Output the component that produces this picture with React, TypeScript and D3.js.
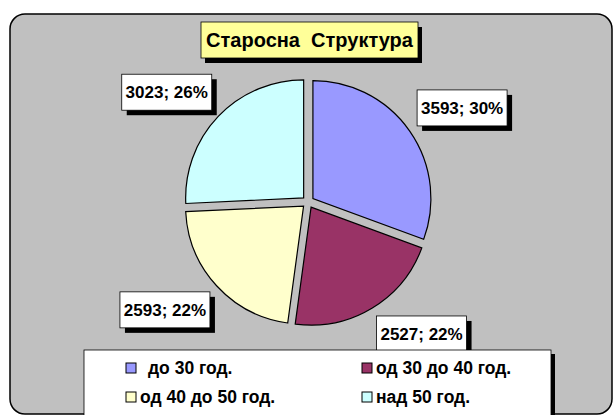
import { useEffect, useRef } from 'react';
import * as d3 from 'd3';

const width = 614;
const height = 415;

const categories = ['до 30 год.', 'од 30 до 40 год.', 'од 40 до 50 год.', 'над 50 год.'];
const values = [3593, 2527, 2593, 3023];
const percentLabels = ['30%', '22%', '22%', '26%'];
const colors = ['#9999FF', '#993366', '#FFFFCC', '#CCFFFF'];
const title = 'Старосна  Структура';

const cx = 308;
const cy = 202;
const radius = 118;
const explode = 6;

const App = () => {
  const ref = useRef<SVGSVGElement>(null);

  useEffect(() => {
    const svg = d3.select(ref.current);
    svg.selectAll('*').remove();
    const font = 'Liberation Sans, Arial, sans-serif';

    // outer frame
    svg.append('rect')
      .attr('x', 10).attr('y', 14)
      .attr('width', 602).attr('height', 400)
      .attr('rx', 15).attr('ry', 15)
      .attr('fill', '#C0C0C0')
      .attr('stroke', '#000').attr('stroke-width', 1.5);

    // title box with shadow
    const tb = { x: 201, y: 22, w: 217, h: 36 };
    svg.append('rect').attr('x', tb.x + 4).attr('y', tb.y + 5).attr('width', tb.w).attr('height', tb.h).attr('fill', '#000');
    svg.append('rect').attr('x', tb.x).attr('y', tb.y).attr('width', tb.w).attr('height', tb.h)
      .attr('fill', '#FFFF99').attr('stroke', '#000').attr('stroke-width', 0.8);
    svg.append('text')
      .attr('x', tb.x + tb.w / 2).attr('y', tb.y + tb.h / 2)
      .attr('dy', '0.35em')
      .attr('text-anchor', 'middle')
      .attr('font-family', font).attr('font-weight', 'bold').attr('font-size', 20)
      .style('white-space', 'pre')
      .text(title);

    const pie = d3.pie<number>().sort(null).value(d => d);
    const arcs = pie(values);
    const arc = d3.arc<d3.PieArcDatum<number>>().innerRadius(0).outerRadius(radius);

    const g = svg.append('g').attr('transform', `translate(${cx},${cy})`);
    g.selectAll('path')
      .data(arcs)
      .enter().append('path')
      .attr('d', arc)
      .attr('transform', d => {
        const a = (d.startAngle + d.endAngle) / 2;
        return `translate(${Math.sin(a) * explode},${-Math.cos(a) * explode})`;
      })
      .attr('fill', (d, i) => colors[i])
      .attr('stroke', '#000').attr('stroke-width', 1.2);

    // data labels
    const lw = 90, lh = 36, lr = 133;
    arcs.forEach((d, i) => {
      const a = (d.startAngle + d.endAngle) / 2;
      const ax = cx + Math.sin(a) * lr;
      const ay = cy - Math.cos(a) * lr;
      const bx = Math.sin(a) >= 0 ? ax : ax - lw;
      const by = Math.cos(a) >= 0 ? ay - lh : ay;
      svg.append('rect').attr('x', bx + 5).attr('y', by + 5).attr('width', lw).attr('height', lh).attr('fill', '#000');
      svg.append('rect').attr('x', bx).attr('y', by).attr('width', lw).attr('height', lh)
        .attr('fill', '#fff').attr('stroke', '#000').attr('stroke-width', 0.8);
      svg.append('text')
        .attr('x', bx + lw / 2).attr('y', by + lh / 2).attr('dy', '0.35em')
        .attr('text-anchor', 'middle')
        .attr('font-family', font).attr('font-weight', 'bold').attr('font-size', 17)
        .text(`${values[i]}; ${percentLabels[i]}`);
    });

    // legend
    const lg = { x: 84, y: 350, w: 467, h: 70 };
    svg.append('rect').attr('x', lg.x + 4).attr('y', lg.y + 4).attr('width', lg.w).attr('height', lg.h).attr('fill', '#000');
    svg.append('rect').attr('x', lg.x).attr('y', lg.y).attr('width', lg.w).attr('height', lg.h)
      .attr('fill', '#fff').attr('stroke', '#000').attr('stroke-width', 0.8);

    const colX = d3.scaleOrdinal<number, number>().domain([0, 1]).range([126, 362]);
    const rowY = d3.scaleOrdinal<number, number>().domain([0, 1]).range([368, 397]);
    categories.forEach((c, i) => {
      const col = i % 2, row = Math.floor(i / 2);
      const x = colX(col), y = rowY(row);
      svg.append('rect').attr('x', x).attr('y', y - 5).attr('width', 10).attr('height', 10)
        .attr('fill', colors[i]).attr('stroke', '#000').attr('stroke-width', 1);
      svg.append('text')
        .attr('x', x + (i === 0 ? 22 : 14)).attr('y', y).attr('dy', '0.35em')
        .attr('font-family', font).attr('font-weight', 'bold').attr('font-size', 17.5)
        .text(c);
    });
  }, []);

  return (
    <svg ref={ref} width={width} height={height}
      style={{ position: 'absolute', left: 0, top: 0, background: '#fff' }} />
  );
};

export default App;
